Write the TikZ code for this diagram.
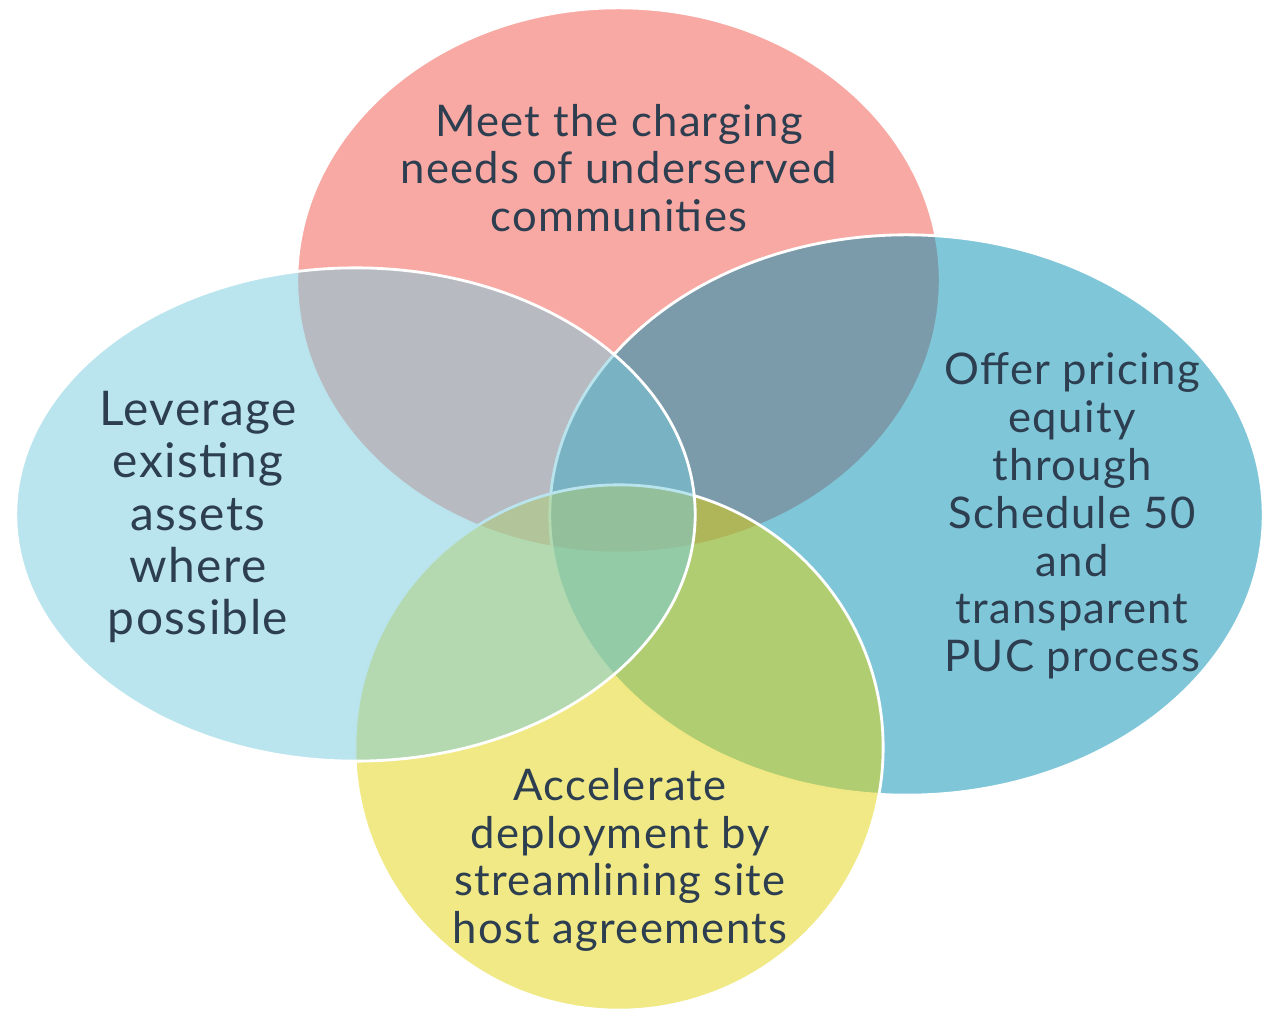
\documentclass[tikz,border=0pt]{standalone}
\usepackage{fontspec}
\setmainfont{Lato}[LetterSpace=3]
\usepackage{tikz}
\usetikzlibrary{positioning}

\definecolor{setred}{RGB}{241,83,71}
\definecolor{setteal}{RGB}{0,142,178}
\definecolor{setyellow}{RGB}{227,211,11}
\definecolor{setsky}{RGB}{119,203,221}
\definecolor{labelink}{RGB}{44,62,80}

\begin{document}
\begin{tikzpicture}[
    x=0.01cm, y=-0.01cm,
    setshape/.style={draw=white, line width=0.8pt, fill opacity=0.5, draw opacity=1},
    setlabel/.style={align=center, text=labelink, font=\fontsize{12.4}{13.6}\selectfont},
    biglabel/.style={setlabel, font=\fontsize{13.6}{14.9}\selectfont}
    ]
    \useasboundingbox (0,0) rectangle (1272,1013);

    % Sets (drawn back to front)
    \path[setshape, fill=setred]    (618.5,280.5) ellipse [x radius=3.215cm, y radius=2.725cm];
    \path[setshape, fill=setteal]   (906.5,515)   ellipse [x radius=3.565cm, y radius=2.80cm];
    \path[setshape, fill=setyellow] (619,747.5)   ellipse [x radius=2.64cm,  y radius=2.625cm];
    \path[setshape, fill=setsky]    (355.5,514.5) ellipse [x radius=3.395cm, y radius=2.465cm];

    %Nodes
    \node[setlabel] (needs)   at (619,168)  {Meet the charging\\needs of underserved\\communities};
    \node[biglabel] (assets)  at (198,517)  {Leverage\\existing\\assets\\where\\possible};
    \node[setlabel] (pricing) at (1072,516) {Offer pricing\\equity\\through\\Schedule 50\\and\\transparent\\PUC process};
    \node[setlabel] (deploy)  at (620,860)  {Accelerate\\deployment by\\streamlining site\\host agreements};
\end{tikzpicture}
\end{document}
